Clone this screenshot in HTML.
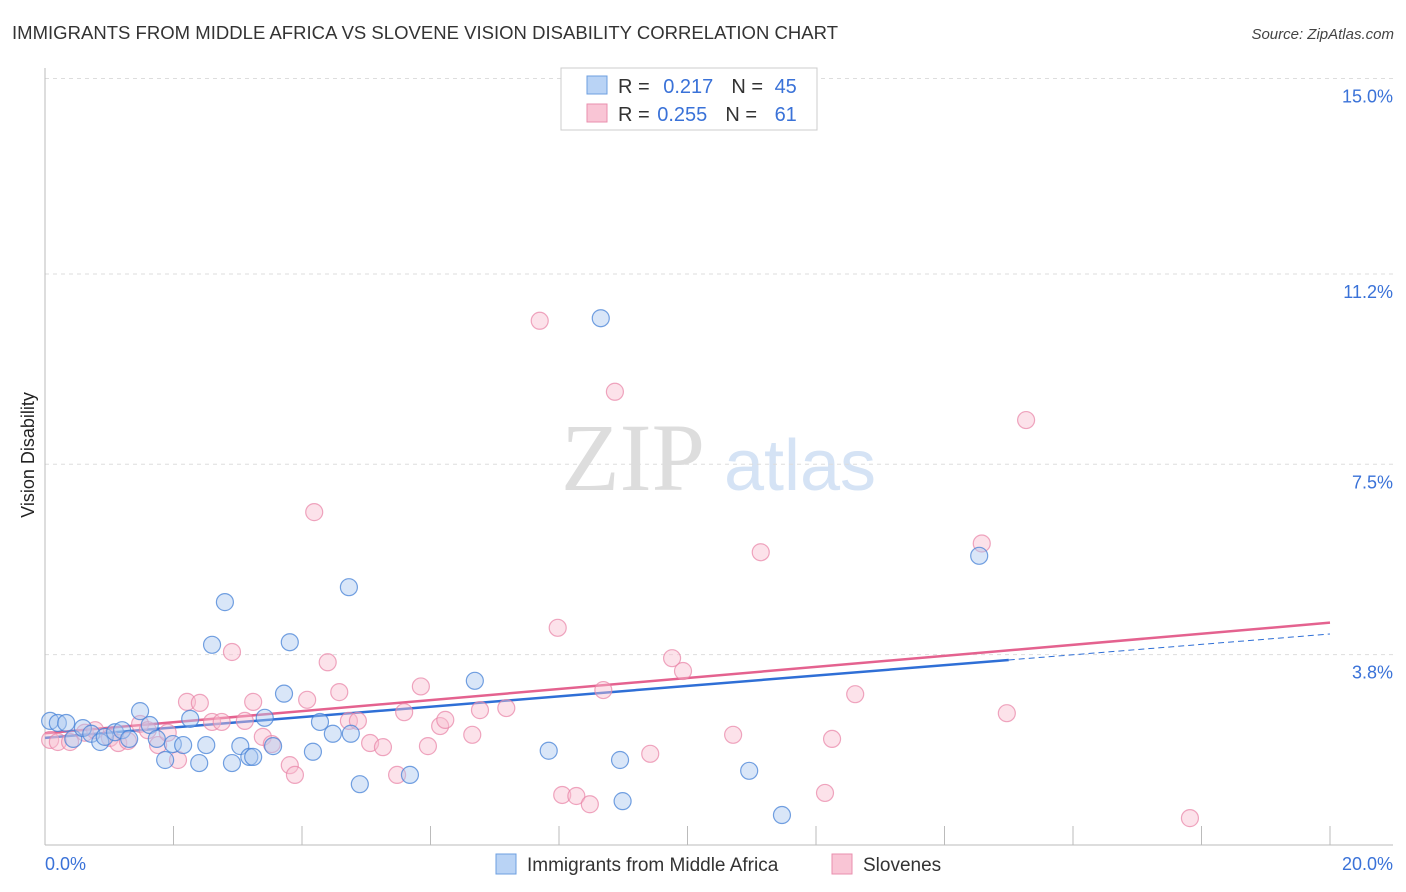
<!DOCTYPE html>
<html><head><meta charset="utf-8"><style>
body{margin:0;background:#fff;font-family:"Liberation Sans",sans-serif;}
svg{display:block}
</style></head><body>
<svg id="chart" width="1406" height="892" xmlns="http://www.w3.org/2000/svg">
<text x="12" y="39" font-size="18.5" fill="#333" textLength="826">IMMIGRANTS FROM MIDDLE AFRICA VS SLOVENE VISION DISABILITY CORRELATION CHART</text>
<text x="1394" y="39" font-size="15" fill="#444" font-style="italic" text-anchor="end">Source: ZipAtlas.com</text>
<text transform="translate(34,455) rotate(-90)" font-size="18" fill="#222" text-anchor="middle">Vision Disability</text>
<g>
<text x="633" y="490" font-size="96" fill="#ddd" font-family="Liberation Serif,serif" text-anchor="middle">ZIP</text>
<text x="800" y="490" font-size="72" fill="#d5e3f5" text-anchor="middle">atlas</text>
</g>
<g id="grid"></g>
<g id="axes"></g>
<g id="lines"></g>
<g id="points"></g>
<g>
<rect x="561" y="68" width="256" height="62" fill="#fff" stroke="#ccc"/>
<rect x="587" y="76" width="20" height="18" fill="#b9d3f5" stroke="#6d9fe0"/>
<rect x="587" y="104" width="20" height="18" fill="#f9c5d5" stroke="#e98fae"/>
<text x="618" y="93" font-size="20" fill="#333">R = <tspan fill="#3a72d8" dx="8">0.217</tspan><tspan fill="#333" dx="18">N = </tspan><tspan fill="#3a72d8" dx="6">45</tspan></text>
<text x="618" y="121" font-size="20" fill="#333">R = <tspan fill="#3a72d8" dx="2">0.255</tspan><tspan fill="#333" dx="18">N = </tspan><tspan fill="#3a72d8" dx="12">61</tspan></text>
</g>
<g>
<rect x="496" y="854" width="20" height="20" fill="#b9d3f5" stroke="#6d9fe0"/>
<text x="527" y="871" font-size="19" fill="#333">Immigrants from Middle Africa</text>
<rect x="832" y="854" width="20" height="20" fill="#f9c5d5" stroke="#e98fae"/>
<text x="863" y="871" font-size="19" fill="#333">Slovenes</text>
</g>
</svg>
<script>
const yTicks=[3.8,7.5,11.2,15.0];
const yTickLabels=["3.8%","7.5%","11.2%","15.0%"];
const xTickCount=[0,2,4,6,8,10,12,14,16,18,20];
const blueX=[0.08,0.2,0.33,0.44,0.59,0.72,0.86,0.93,1.09,1.2,1.31,1.48,1.63,1.74,1.87,1.99,2.15,2.26,2.4,2.51,2.6,2.8,2.91,3.04,3.18,3.24,3.42,3.55,3.72,3.81,4.17,4.28,4.48,4.73,4.76,4.9,5.68,6.69,7.84,8.65,8.95,8.99,10.96,11.47,14.54];
const blueY=[2.51,2.47,2.47,2.16,2.37,2.26,2.1,2.2,2.29,2.33,2.16,2.7,2.43,2.16,1.75,2.06,2.04,2.55,1.69,2.04,3.99,4.82,1.69,2.02,1.81,1.81,2.57,2.02,3.04,4.04,1.91,2.49,2.26,5.11,2.26,1.28,1.46,3.29,1.93,10.34,1.75,0.95,1.54,0.68,5.72];
const pinkX=[0.08,0.2,0.39,0.62,0.78,1.01,1.14,1.29,1.48,1.6,1.76,1.91,2.07,2.21,2.41,2.6,2.75,2.91,3.11,3.24,3.39,3.53,3.81,3.89,4.08,4.19,4.4,4.58,4.73,4.87,5.06,5.26,5.48,5.59,5.85,5.96,6.15,6.23,6.65,6.77,7.18,7.7,7.98,8.05,8.27,8.48,8.69,8.87,9.42,9.76,9.93,10.71,11.14,12.14,12.25,12.61,14.58,14.97,15.27,17.82];
const pinkY=[2.14,2.1,2.1,2.28,2.33,2.18,2.08,2.12,2.45,2.33,2.04,2.28,1.75,2.88,2.86,2.49,2.49,3.85,2.51,2.88,2.2,2.06,1.65,1.46,2.92,6.57,3.65,3.07,2.51,2.51,2.08,2.0,1.46,2.68,3.18,2.02,2.41,2.53,2.24,2.72,2.76,10.29,4.32,1.07,1.05,0.89,3.11,8.91,1.87,3.73,3.48,2.24,5.79,1.11,2.16,3.03,5.96,2.66,8.36,0.62];
const blueTrend=[2.18,4.2], pinkTrend=[2.27,4.42], blueSolidEnd=15.0;
const NS="http://www.w3.org/2000/svg";
const X=v=>45+v*64.25, Y=v=>850-v*51.43;
function mk(tag,attrs,parent){const e=document.createElementNS(NS,tag);for(const k in attrs)e.setAttribute(k,attrs[k]);document.getElementById(parent).appendChild(e);return e;}
yTicks.forEach((t,i)=>{
 const g=mk('line',{x1:45,x2:1393,y1:Y(t),y2:Y(t),stroke:'#ddd','stroke-dasharray':'4,4'},'grid');
 
 
 const l=mk('text',{x:1393,y:Y(t)+24,'font-size':18,fill:'#3a72d8','text-anchor':'end'},'axes');
 l.textContent=yTickLabels[i];
 
 
});
const ya=mk('line',{x1:45,x2:45,y1:68,y2:845,stroke:'#bbb'},'axes');


const xa=mk('line',{x1:45,x2:1393,y1:845,y2:845,stroke:'#bbb'},'axes');


xTickCount.forEach(t=>{
 const tk=mk('line',{x1:X(t),x2:X(t),y1:826,y2:845,stroke:'#bbb'},'axes');
 
 
});
const xl0=mk('text',{x:45,y:870,'font-size':18,fill:'#3a72d8'},'axes');xl0.textContent='0.0%';


const xl1=mk('text',{x:1393,y:870,'font-size':18,fill:'#3a72d8','text-anchor':'end'},'axes');xl1.textContent='20.0%';


pinkX.forEach((x,i)=>{
 const c=mk('circle',{cx:X(x),cy:Y(pinkY[i]),r:8.5,fill:'rgba(249,190,208,0.45)',stroke:'rgba(232,130,165,0.7)','stroke-width':1.2},'points');
 
 
});
blueX.forEach((x,i)=>{
 const c=mk('circle',{cx:X(x),cy:Y(blueY[i]),r:8.5,fill:'rgba(170,200,240,0.45)',stroke:'rgba(70,130,215,0.75)','stroke-width':1.2},'points');
 
 
});
const bAt=v=>blueTrend[0]+(blueTrend[1]-blueTrend[0])*v/20;
const bl=mk('line',{x1:X(0),y1:Y(bAt(0)),x2:X(blueSolidEnd),y2:Y(bAt(blueSolidEnd)),stroke:'#2f6fd6','stroke-width':2.5},'lines');


const bd=mk('line',{x1:X(blueSolidEnd),y1:Y(bAt(blueSolidEnd)),x2:X(20),y2:Y(bAt(20)),stroke:'#2f6fd6','stroke-width':1,'stroke-dasharray':'6,4'},'lines');


const pl=mk('line',{x1:X(0),y1:Y(pinkTrend[0]),x2:X(20),y2:Y(pinkTrend[1]),stroke:'#e4628f','stroke-width':2.5},'lines');


</script>
</body></html>
